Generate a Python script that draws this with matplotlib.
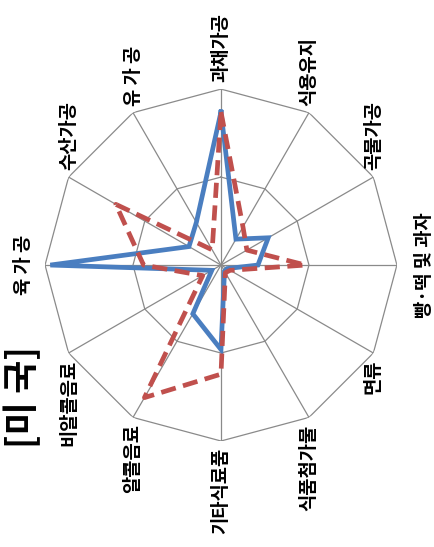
import numpy as np
import matplotlib
matplotlib.use('Agg')
import matplotlib.pyplot as plt

plt.rcParams['font.family'] = ['Noto Sans CJK KR', 'DejaVu Sans']

#%% data (clockwise from the top spoke)
categories = ['과채가공', '식용유지', '곡물가공', '빵·떡 및 과자', '면류', '식품첨가물',
              '기타식료품', '알콜음료', '비알콜음료', '육 가 공', '수산가공', '유 가 공']
series_a = [0.87, 0.17, 0.31, 0.21, 0.04, 0.04, 0.48, 0.32, 0.06, 0.97, 0.21, 0.28]   # solid blue
series_b = [0.87, 0.25, 0.17, 0.48, 0.06, 0.05, 0.62, 0.87, 0.12, 0.44, 0.69, 0.10]   # dashed red
rings = [0.5, 1.0]
title = '[미 국]'

#%% figure
fig = plt.figure(figsize=(4.35, 5.47), dpi=100)
ax = fig.add_axes([0.1035, 0.1937, 0.809, 0.6435], projection='polar')
ax.set_theta_offset(np.pi / 2)
ax.set_theta_direction(-1)
ax.set_ylim(0, 1)
ax.grid(False)
ax.spines['polar'].set_visible(False)
ax.set_xticks([])
ax.set_yticks([])
ax.patch.set_alpha(0)

n = len(categories)
theta = np.linspace(0, 2 * np.pi, n, endpoint=False)
theta_c = np.append(theta, theta[0])

# polygon grid + spokes
grey = '#8a8a8a'
for r in rings:
    ax.plot(theta_c, [r] * (n + 1), color=grey, lw=0.9, zorder=1)
for t in theta:
    ax.plot([t, t], [0, rings[-1]], color=grey, lw=0.9, zorder=1)

# series
ax.plot(theta_c, series_a + series_a[:1], color='#4a7ec0', lw=3.4, zorder=3,
        solid_joinstyle='miter')
ax.plot(theta_c, series_b + series_b[:1], color='#c0504d', lw=3.4, zorder=4,
        dashes=(3.2, 1.6), solid_joinstyle='miter')

# category labels, rotated like the source
for t, lab in zip(theta, categories):
    ang = np.pi / 2 - t          # screen angle
    c, s = np.cos(ang), np.sin(ang)
    if s > 0.1:
        ha, va, off = 'center', 'bottom', (0, 5)
    elif s < -0.1:
        ha, va, off = 'center', 'top', (0, -5)
    elif c > 0:
        ha, va, off = 'left', 'center', (13, 0)
    else:
        ha, va, off = 'right', 'center', (-9, 0)
    ax.annotate(lab, xy=(t, 1.0), xytext=off, textcoords='offset points',
                rotation=90, ha=ha, va=va, fontsize=13.5, fontweight='bold',
                color='black')

fig.text(0.055, 0.274, title, rotation=90, ha='center', va='center',
         fontsize=26, fontweight='bold')

fig.savefig('out.png', dpi=100)
